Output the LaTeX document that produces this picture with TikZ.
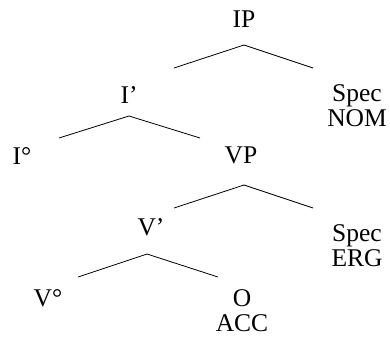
\documentclass[tikz,border=0pt]{standalone}
\usepackage{fontspec}
\setmainfont{Liberation Serif}
\begin{document}
\begin{tikzpicture}[x=1pt,y=-1pt,
  lbl/.style={inner sep=0pt,font=\fontsize{25.5}{25}\selectfont},
  br/.style={line width=0.8pt}]
\useasboundingbox (0,0) rectangle (390,343);
\node[lbl] (IP) at (244,19) {IP};
\node[lbl] (Ib) at (129,95) {I’};
\node[lbl,align=center] (SN) at (357,106) {Spec\\NOM};
\node[lbl] (I0) at (22,156) {I°};
\node[lbl] (VP) at (241,155) {VP};
\node[lbl] (Vb) at (151,227) {V’};
\node[lbl,align=center] (SE) at (357,246) {Spec\\ERG};
\node[lbl] (V0) at (48,298) {V°};
\node[lbl,align=center] (O) at (242,311) {O\\ACC};
\coordinate (a1) at (244,45);
\coordinate (a2) at (129,116);
\coordinate (a3) at (244,185);
\coordinate (a4) at (147,254);
\draw[br] (174,68) -- (a1) -- (313,68);
\draw[br] (59,138) -- (a2) -- (200,138);
\draw[br] (174,208) -- (a3) -- (313,208);
\draw[br] (78,277) -- (a4) -- (218,277);
\end{tikzpicture}
\end{document}
